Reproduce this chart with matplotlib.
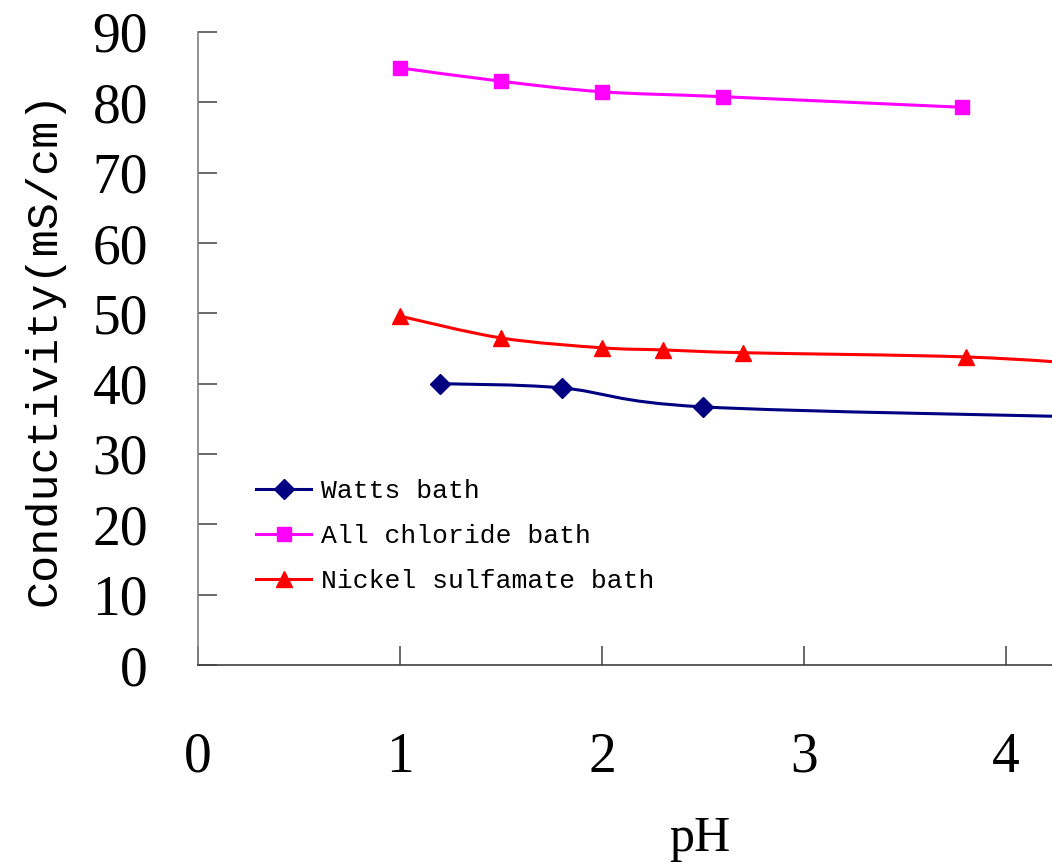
import matplotlib
matplotlib.use("Agg")
import matplotlib.pyplot as plt
from matplotlib.path import Path
from matplotlib.patches import PathPatch
from matplotlib.lines import Line2D
import numpy as np

# ---- data ----
watts_ph = [1.2, 1.8, 2.5, 4.5]
watts_cond = [40.0, 39.4, 36.7, 35.2]

chloride_ph = [1.0, 1.5, 2.0, 2.6, 3.78]
chloride_cond = [84.9, 83.0, 81.5, 80.8, 79.3]

sulfamate_ph = [1.0, 1.5, 2.0, 2.3, 2.7, 3.8, 4.5]
sulfamate_cond = [49.6, 46.5, 45.1, 44.8, 44.4, 43.8, 42.6]

series_labels = ["Watts bath", "All chloride bath", "Nickel sulfamate bath"]
x_ticks = [0, 1, 2, 3, 4]
y_ticks = [0, 10, 20, 30, 40, 50, 60, 70, 80, 90]

colors = ["#000080", "#FF00FF", "#FF0000"]
markers = ["D", "s", "^"]
msizes = [10, 10, 11]


def smooth_path(xs, ys):
    p = np.column_stack([xs, ys]).astype(float)
    n = len(p)
    verts = [p[0]]
    codes = [Path.MOVETO]
    for i in range(n - 1):
        p0 = p[i - 1] if i > 0 else p[i]
        p1 = p[i]
        p2 = p[i + 1]
        p3 = p[i + 2] if i + 2 < n else p[i + 1]
        c1 = p1 + (p2 - p0) / 6.0
        c2 = p2 - (p3 - p1) / 6.0
        verts += [c1, c2, p2]
        codes += [Path.CURVE4] * 3
    return Path(verts, codes)


fig = plt.figure(figsize=(10.52, 8.64), dpi=100)
ax = fig.add_axes([198 / 1052, 1 - 665 / 864, 1 - 198 / 1052, (665 - 32) / 864])

data = [(watts_ph, watts_cond), (chloride_ph, chloride_cond), (sulfamate_ph, sulfamate_cond)]
handles = []
for (xs, ys), c, m, ms, lab in zip(data, colors, markers, msizes, series_labels):
    patch = PathPatch(smooth_path(xs, ys), facecolor="none", edgecolor=c, lw=2.2,
                      transform=ax.transData, zorder=2)
    ax.add_patch(patch)
    ax.plot(xs, ys, linestyle="none", marker=m, ms=ms, color=c, zorder=3)
    handles.append(Line2D([], [], color=c, lw=2.2, marker=m, ms=ms))

ax.set_xlim(0, (1052 - 198) / 202)
ax.set_ylim(0, 90)
ax.set_xticks(x_ticks)
ax.set_yticks(y_ticks)

for s in ["top", "right"]:
    ax.spines[s].set_visible(False)
ax.spines["left"].set_color("#808080")
ax.spines["bottom"].set_color("#404040")
ax.spines["left"].set_linewidth(1.2)
ax.spines["bottom"].set_linewidth(1.2)

ax.tick_params(axis="both", direction="in", length=14, width=1.1, color="#404040")
ax.tick_params(axis="y", pad=36)
ax.tick_params(axis="x", pad=48)
for lbl in ax.get_xticklabels() + ax.get_yticklabels():
    lbl.set_fontfamily("Liberation Serif")
    lbl.set_fontsize(40)

ax.set_ylabel("Conductivity(mS/cm)", fontfamily="Liberation Mono", fontsize=32.5)
ax.yaxis.set_label_coords((65 - 198) / 854, 0.5)
ax.set_xlabel("pH", fontfamily="Liberation Serif", fontsize=36)
ax.xaxis.set_label_coords((700 - 198) / 854, (665 - 815) / 633)

leg = ax.legend(handles, series_labels, loc="upper left",
                bbox_to_anchor=((256 - 198) / 854, (665 - 479) / 633),
                frameon=False, borderpad=0, borderaxespad=0,
                handlelength=2.1, handletextpad=0.35, labelspacing=0.8,
                prop={"family": "Liberation Mono", "size": 19})

fig.savefig("out.png", dpi=100)
